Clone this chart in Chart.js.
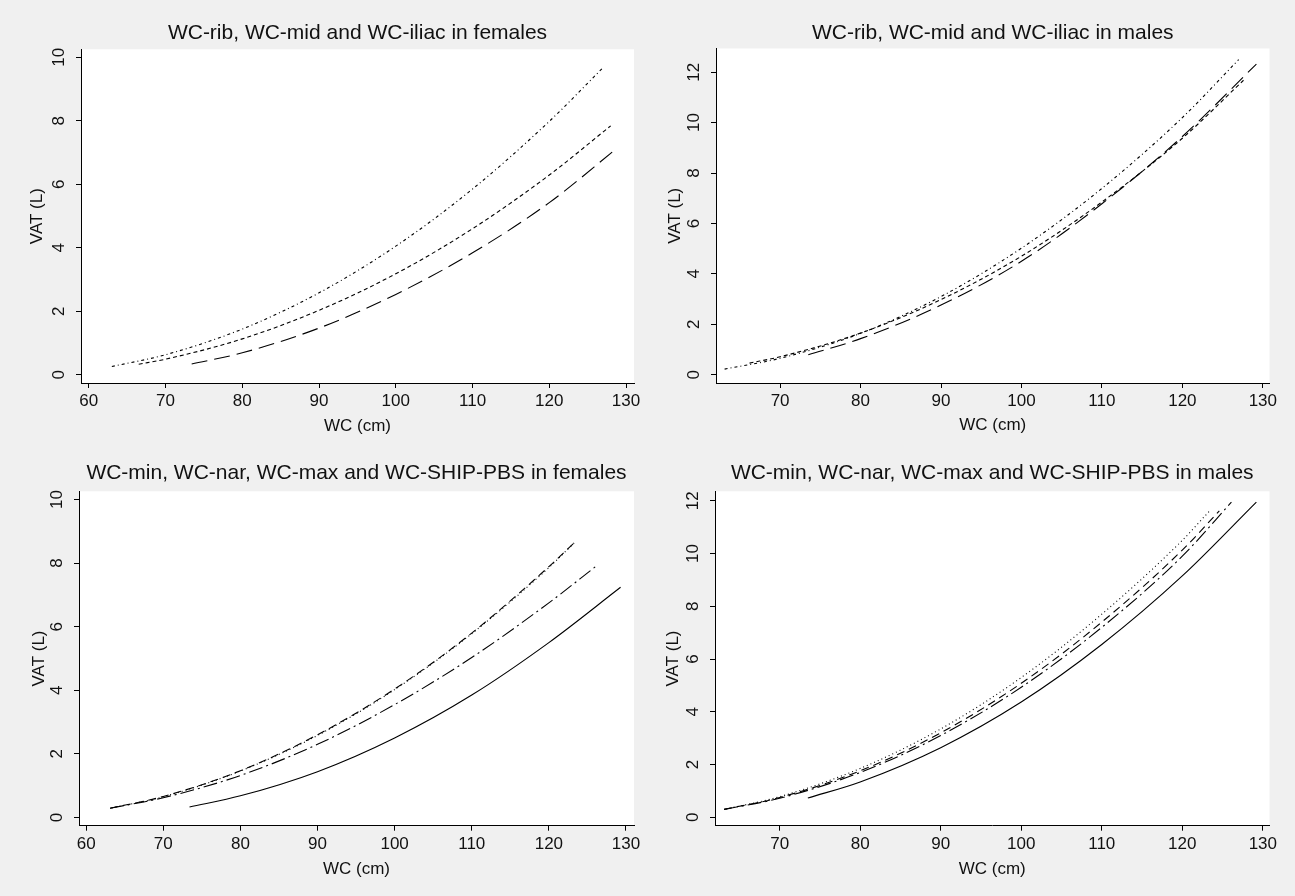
<!DOCTYPE html>
<html>
<head>
<meta charset="utf-8">
<title>VAT vs WC</title>
<script src="https://cdn.jsdelivr.net/npm/chart.js@4.4.0/dist/chart.umd.min.js"></script>
<style>
  html, body { margin: 0; padding: 0; background: #f0f0f0; }
  #wrap { position: relative; width: 1295px; height: 896px; overflow: hidden; }
  #wrap canvas { position: absolute; }
</style>
</head>
<body>
<div id="wrap">
  <canvas id="femA" width="647" height="448" style="left:0px;top:0px"></canvas>
  <canvas id="maleA" width="647" height="448" style="left:648px;top:0px"></canvas>
  <canvas id="femB" width="647" height="448" style="left:0px;top:448px"></canvas>
  <canvas id="maleB" width="647" height="448" style="left:648px;top:448px"></canvas>
</div>
<script>
// Tick labels
const femXTicks = [60, 70, 80, 90, 100, 110, 120, 130];
const maleXTicks = [70, 80, 90, 100, 110, 120, 130];
const femYTicks = [0, 2, 4, 6, 8, 10];
const maleYTicks = [0, 2, 4, 6, 8, 10, 12];

// Panel titles
const titleFemA = 'WC-rib, WC-mid and WC-iliac in females';
const titleMaleA = 'WC-rib, WC-mid and WC-iliac in males';
const titleFemB = 'WC-min, WC-nar, WC-max and WC-SHIP-PBS in females';
const titleMaleB = 'WC-min, WC-nar, WC-max and WC-SHIP-PBS in males';

// Females: rib / mid / iliac
const femRibWC = [63, 70, 80, 90, 100, 110, 120, 127];
const femRibVAT = [0.26, 0.63, 1.44, 2.58, 4.05, 5.85, 7.98, 9.67];
const femMidWC = [66.5, 70, 80, 90, 100, 110, 120, 128];
const femMidVAT = [0.33, 0.49, 1.13, 2.03, 3.18, 4.6, 6.29, 7.84];
const femIliacWC = [73.4, 80, 90, 100, 110, 120, 128.8];
const femIliacVAT = [0.34, 0.69, 1.47, 2.53, 3.84, 5.42, 7.13];

// Males: rib / mid / iliac
const maleRibWC = [63.1, 70, 80, 90, 100, 110, 120, 127];
const maleRibVAT = [0.22, 0.65, 1.64, 3.1, 5.02, 7.39, 10.2, 12.5];
const maleMidWC = [66.2, 70, 80, 90, 100, 110, 120, 127.6];
const maleMidVAT = [0.46, 0.71, 1.65, 2.98, 4.7, 6.85, 9.38, 11.68];
const maleIliacWC = [73.5, 80, 90, 100, 110, 120, 129.2];
const maleIliacVAT = [0.79, 1.43, 2.76, 4.5, 6.78, 9.45, 12.32];

// Females: min / nar / SHIP-PBS / max
const femMinWC = [63.1, 70, 80, 90, 100, 110, 120, 123.5];
const femMinVAT = [0.29, 0.66, 1.47, 2.6, 4.04, 5.8, 7.89, 8.69];
const femNarWC = [63.3, 70, 80, 90, 100, 110, 120, 123.3];
const femNarVAT = [0.3, 0.65, 1.46, 2.58, 4.02, 5.78, 7.86, 8.64];
const femShipWC = [63.1, 70, 80, 90, 100, 110, 120, 126.1];
const femShipVAT = [0.29, 0.62, 1.32, 2.3, 3.55, 5.03, 6.75, 7.9];
const femMaxWC = [73.4, 80, 90, 100, 110, 120, 129.3];
const femMaxVAT = [0.33, 0.68, 1.44, 2.5, 3.85, 5.5, 7.24];

// Males: min / nar / SHIP-PBS / max
const maleMinWC = [63.1, 70, 80, 90, 100, 110, 120, 124.6];
const maleMinVAT = [0.3, 0.75, 1.76, 3.2, 5.08, 7.4, 10.13, 11.62];
const maleNarWC = [63.3, 70, 80, 90, 100, 110, 120, 123.4];
const maleNarVAT = [0.31, 0.78, 1.85, 3.35, 5.3, 7.7, 10.5, 11.62];
const maleShipWC = [63.1, 70, 80, 90, 100, 110, 120, 126.1];
const maleShipVAT = [0.3, 0.72, 1.7, 3.1, 4.93, 7.2, 9.9, 11.95];
const maleMaxWC = [73.5, 80, 90, 100, 110, 120, 129.2];
const maleMaxVAT = [0.73, 1.34, 2.64, 4.37, 6.55, 9.15, 11.95];

const FONT = "'Liberation Sans', Arial, Helvetica, sans-serif";
const INK = '#111';

// Line patterns (Stata-like)
const DASH = {
    solid: [],
    longDash: [16, 7],
    shortDash: [4, 3],
    dashDot: [3, 3, 1, 3],
    dash: [8, 5],
    dot: [1, 3],
    longDashDot: [14, 4, 2, 4]
};

function series(wc, vat, dash) {
    return {
        data: wc.map((x, i) => ({ x: x, y: vat[i] })),
        borderColor: '#000',
        borderWidth: 1.1,
        borderDash: dash,
        pointRadius: 0,
        fill: false,
        cubicInterpolationMode: 'monotone'
    };
}

// White plot region, like the Stata plotregion
const plotBackground = {
    id: 'plotBackground',
    beforeDraw(chart) {
        const { ctx, chartArea: a } = chart;
        ctx.save();
        ctx.fillStyle = '#ffffff';
        ctx.fillRect(a.left, a.top, a.right - a.left, a.bottom - a.top);
        ctx.restore();
    }
};

function axisStyle() {
    return {
        border: { display: true, color: '#000', width: 1 },
        grid: { display: true, drawOnChartArea: false, drawTicks: true, tickLength: 5, tickColor: '#000', tickWidth: 1 }
    };
}

function makePanel(id, p) {
    const h = 448;
    return new Chart(document.getElementById(id), {
        type: 'line',
        data: { datasets: p.datasets },
        options: {
            responsive: false,
            animation: false,
            devicePixelRatio: 1,
            layout: { padding: { left: 0, right: p.padRight, top: 0, bottom: 0 } },
            plugins: {
                legend: { display: false },
                tooltip: { enabled: false },
                title: {
                    display: true,
                    text: p.title,
                    fullSize: false,
                    color: INK,
                    font: { family: FONT, size: 21, weight: 'normal' },
                    padding: { top: p.titleTop, bottom: p.titleBottom }
                }
            },
            scales: {
                x: Object.assign(axisStyle(), {
                    type: 'linear',
                    min: p.xMin,
                    max: p.xMax,
                    afterBuildTicks: s => { s.ticks = p.xTicks.map(v => ({ value: v })); },
                    afterFit: s => { s.height = h - p.bottom; },
                    ticks: { color: INK, font: { family: FONT, size: 17 }, padding: 3, maxRotation: 0, autoSkip: false },
                    title: {
                        display: true, text: 'WC (cm)', color: INK,
                        font: { family: FONT, size: 17 },
                        padding: { top: 0, bottom: p.xTitlePad }
                    }
                }),
                y: Object.assign(axisStyle(), {
                    type: 'linear',
                    min: p.yMin,
                    max: p.yMax,
                    afterBuildTicks: s => { s.ticks = p.yTicks.map(v => ({ value: v })); },
                    afterFit: s => { s.width = p.left; },
                    ticks: { color: INK, font: { family: FONT, size: 17 }, padding: 7, minRotation: 90, maxRotation: 90, crossAlign: 'center', autoSkip: false },
                    title: {
                        display: true, text: 'VAT (L)', color: INK,
                        font: { family: FONT, size: 17 },
                        padding: { top: p.yTitlePad, bottom: 0 }
                    }
                })
            }
        },
        plugins: [plotBackground]
    });
}

makePanel('femA', {
    title: titleFemA,
    datasets: [
        series(femRibWC, femRibVAT, DASH.dashDot),
        series(femMidWC, femMidVAT, DASH.shortDash),
        series(femIliacWC, femIliacVAT, DASH.longDash)
    ],
    xTicks: femXTicks, yTicks: femYTicks,
    xMin: 58.98, xMax: 131.04, yMin: -0.26, yMax: 10.25,
    left: 81, padRight: 13, bottom: 383,
    titleTop: 20.7, titleBottom: 3.4, xTitlePad: 11, yTitlePad: 27
});

makePanel('maleA', {
    title: titleMaleA,
    datasets: [
        series(maleRibWC, maleRibVAT, DASH.dashDot),
        series(maleMidWC, maleMidVAT, DASH.shortDash),
        series(maleIliacWC, maleIliacVAT, DASH.longDash)
    ],
    xTicks: maleXTicks, yTicks: maleYTicks,
    xMin: 62.03, xMax: 130.83, yMin: -0.33, yMax: 12.94,
    left: 68, padRight: 25.5, bottom: 383,
    titleTop: 20.7, titleBottom: 2.6, xTitlePad: 12, yTitlePad: 17
});

makePanel('femB', {
    title: titleFemB,
    datasets: [
        series(femMinWC, femMinVAT, DASH.dash),
        series(femNarWC, femNarVAT, DASH.dot),
        series(femShipWC, femShipVAT, DASH.longDashDot),
        series(femMaxWC, femMaxVAT, DASH.solid)
    ],
    xTicks: femXTicks, yTicks: femYTicks,
    xMin: 59.07, xMax: 131.04, yMin: -0.26, yMax: 10.26,
    left: 79, padRight: 13, bottom: 377.7,
    titleTop: 12.4, titleBottom: 5.7, xTitlePad: 16, yTitlePad: 29
});

makePanel('maleB', {
    title: titleMaleB,
    datasets: [
        series(maleMinWC, maleMinVAT, DASH.dash),
        series(maleNarWC, maleNarVAT, DASH.dot),
        series(maleShipWC, maleShipVAT, DASH.longDashDot),
        series(maleMaxWC, maleMaxVAT, DASH.solid)
    ],
    xTicks: maleXTicks, yTicks: maleYTicks,
    xMin: 61.97, xMax: 130.83, yMin: -0.32, yMax: 12.36,
    left: 67, padRight: 25.5, bottom: 377.7,
    titleTop: 12.4, titleBottom: 5.7, xTitlePad: 16, yTitlePad: 15.5
});
</script>
</body>
</html>
